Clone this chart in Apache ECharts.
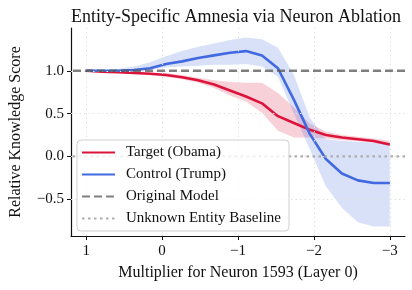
<!DOCTYPE html>
<html>
<head>
<meta charset="utf-8">
<script src="https://cdn.jsdelivr.net/npm/echarts@6/dist/echarts.min.js"></script>
<style>
    html, body { margin: 0; padding: 0; background: #fff; }
    #chart { width: 412px; height: 290px; }
</style>
</head>
<body>
<div id="chart"></div>
<script>
    // multiplier values (x)
    const multipliers = [1.0, 0.7895, 0.5789, 0.3684, 0.1579, -0.0526, -0.2632, -0.4737, -0.6842, -0.8947,
        -1.1053, -1.3158, -1.5263, -1.7368, -1.9474, -2.1579, -2.3684, -2.5789, -2.7895, -3.0]

    // Target (Obama)
    const targetMean = [1.00, 0.99, 0.985, 0.975, 0.965, 0.95, 0.925, 0.89, 0.84, 0.77,
        0.70, 0.62, 0.47, 0.39, 0.31, 0.25, 0.22, 0.20, 0.18, 0.14]
    const targetLow = [1.00, 0.99, 0.98, 0.97, 0.95, 0.93, 0.90, 0.86, 0.80, 0.71,
        0.64, 0.51, 0.30, 0.22, 0.22, 0.21, 0.19, 0.18, 0.16, 0.12]
    const targetHigh = [1.00, 1.00, 0.99, 0.985, 0.98, 0.97, 0.95, 0.92, 0.89, 0.87,
        0.86, 0.86, 0.74, 0.57, 0.38, 0.29, 0.25, 0.23, 0.21, 0.18]

    // Control (Trump)
    const controlMean = [1.00, 1.00, 1.00, 1.01, 1.03, 1.08, 1.11, 1.15, 1.18, 1.21,
        1.23, 1.18, 1.03, 0.66, 0.26, -0.03, -0.20, -0.28, -0.31, -0.31]
    const controlLow = [1.00, 1.00, 0.99, 1.00, 1.01, 1.04, 1.05, 1.06, 1.07, 1.07,
        1.08, 1.05, 0.93, 0.50, 0.08, -0.35, -0.60, -0.77, -0.82, -0.82]
    const controlHigh = [1.00, 1.00, 1.02, 1.05, 1.10, 1.17, 1.23, 1.28, 1.32, 1.36,
        1.39, 1.37, 1.27, 0.95, 0.45, 0.20, 0.18, 0.17, 0.16, 0.16]

    // reference levels
    const originalModel = 1.0
    const unknownBaseline = 0.0

    const xTicks = [1, 0, -1, -2, -3]
    const yTicks = [-0.5, 0, 0.5, 1.0]
    const xRange = [-3.2, 1.2]
    const yRange = [-0.93, 1.5]

    const FONT = '"Liberation Serif", "DejaVu Serif", serif'

    const pairs = (ys) => multipliers.map((x, i) => [x, ys[i]])
    const minus = (v) => String(v).replace('-', '\u2212')

    // shaded band between low and high, drawn through the axes' coord()
    function bandSeries(name, low, high, fill, z) {
        return {
            name: name,
            type: 'custom',
            silent: true,
            z: z,
            data: pairs(low),
            renderItem: function (params, api) {
                if (params.dataIndex !== 0) return null
                const top = multipliers.map((x, i) => api.coord([x, high[i]]))
                const bottom = multipliers.map((x, i) => api.coord([x, low[i]])).reverse()
                return {
                    type: 'polygon',
                    shape: { points: top.concat(bottom) },
                    style: { fill: fill }
                }
            }
        }
    }

    const gridLines = []
    xTicks.forEach(v => gridLines.push({ xAxis: v }))
    yTicks.forEach(v => gridLines.push({ yAxis: v }))

    const noSymbol = { itemStyle: { opacity: 0 } }

    const myChart = echarts.init(document.getElementById('chart'))
    const options = {
        animation: false,
        backgroundColor: '#fff',
        title: {
            text: 'Entity-Specific Amnesia via Neuron Ablation',
            left: 66,
            top: 3,
            textStyle: { fontFamily: FONT, fontSize: 18, fontWeight: 'normal', color: '#111' }
        },
        grid: { left: 68, right: 7, top: 28, bottom: 54 },
        legend: {
            data: [
                Object.assign({ name: 'Target (Obama)' }, noSymbol),
                Object.assign({ name: 'Control (Trump)' }, noSymbol),
                Object.assign({ name: 'Original Model' }, noSymbol),
                Object.assign({ name: 'Unknown Entity Baseline' }, noSymbol)
            ],
            z: 10,
            orient: 'vertical',
            left: 77,
            top: 140,
            itemWidth: 33,
            itemHeight: 14,
            itemGap: 7,
            padding: [5, 8, 5, 4],
            borderColor: '#d0d0d0',
            borderWidth: 1,
            borderRadius: 4,
            backgroundColor: 'rgba(255,255,255,0.82)',
            textStyle: { fontFamily: FONT, fontSize: 15, color: '#111', padding: [0, 0, 0, 6] }
        },
        xAxis: {
            type: 'value',
            inverse: true,
            min: xRange[0],
            max: xRange[1],
            name: 'Multiplier for Neuron 1593 (Layer 0)',
            nameLocation: 'middle',
            nameGap: 29,
            nameTextStyle: { fontFamily: FONT, fontSize: 16, color: '#111' },
            axisLine: { onZero: false, lineStyle: { color: '#111', width: 1.2 } },
            axisTick: { customValues: xTicks, length: 4, lineStyle: { color: '#111' } },
            axisLabel: { customValues: xTicks, margin: 8, fontFamily: FONT, fontSize: 15, color: '#111', formatter: minus },
            splitLine: { show: false }
        },
        yAxis: {
            type: 'value',
            min: yRange[0],
            max: yRange[1],
            name: 'Relative Knowledge Score',
            nameLocation: 'middle',
            nameGap: 47,
            nameTextStyle: { fontFamily: FONT, fontSize: 16, color: '#111' },
            axisLine: { show: true, onZero: false, lineStyle: { color: '#111', width: 1.2 } },
            axisTick: { show: true, customValues: yTicks, length: 4, lineStyle: { color: '#111' } },
            axisLabel: {
                customValues: yTicks, margin: 7, fontFamily: FONT, fontSize: 15, color: '#111',
                formatter: v => minus(v.toFixed(1))
            },
            splitLine: { show: false }
        },
        series: [
            {
                name: 'grid', type: 'line', data: [], symbol: 'none', silent: true, z: 0,
                markLine: {
                    silent: true, symbol: 'none', label: { show: false },
                    lineStyle: { color: '#e2e2e2', type: [1.5, 3], width: 1 },
                    data: gridLines
                }
            },
            bandSeries('targetBand', targetLow, targetHigh, 'rgba(220,20,60,0.2)', 1),
            bandSeries('controlBand', controlLow, controlHigh, 'rgba(65,105,225,0.2)', 1),
            {
                name: 'Target (Obama)', type: 'line', data: pairs(targetMean), symbol: 'none', z: 3,
                itemStyle: { color: '#dc143c' }, lineStyle: { color: '#dc143c', width: 2.6 }
            },
            {
                name: 'Control (Trump)', type: 'line', data: pairs(controlMean), symbol: 'none', z: 4,
                itemStyle: { color: '#4169e1' }, lineStyle: { color: '#4169e1', width: 2.6 }
            },
            {
                name: 'Original Model', type: 'line', data: xRange.map(x => [x, originalModel]), symbol: 'none', z: 5,
                itemStyle: { color: '#808080' }, lineStyle: { color: 'rgba(85,85,85,0.75)', width: 2.5, type: [8, 4] }
            },
            {
                name: 'Unknown Entity Baseline', type: 'line', data: xRange.map(x => [x, unknownBaseline]), symbol: 'none', z: 5,
                itemStyle: { color: '#adadad' }, lineStyle: { color: '#adadad', width: 2.2, type: [2.5, 3.5] }
            }
        ]
    }
    myChart.setOption(options)
    window.addEventListener('resize', myChart.resize)
</script>
</body>
</html>
